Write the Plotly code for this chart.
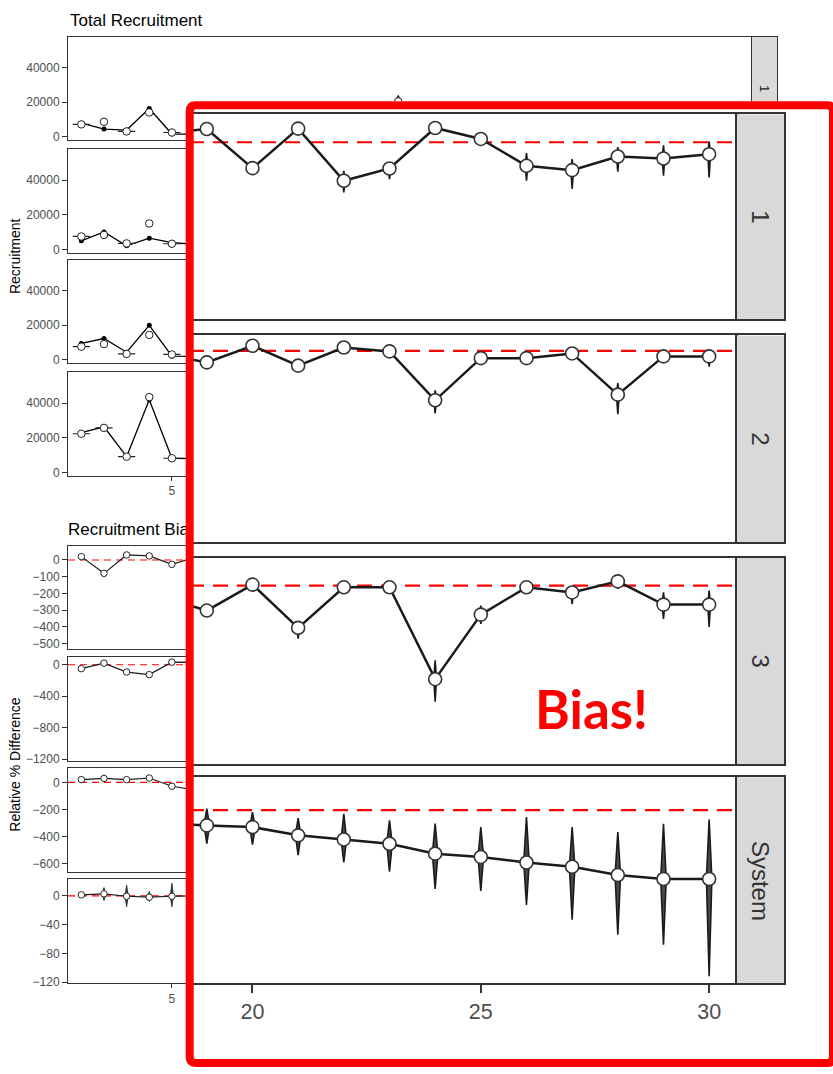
import plotly.graph_objects as go

W, H = 833, 1074
FONT = "Liberation Sans, Arial, Helvetica, sans-serif"
TICK_GREY = "#4D4D4D"
FRAME = "#333333"
STRIP_FILL = "#D9D9D9"
INK = "#1A1A1A"
RED = "#FF0000"

# ---------------- data ----------------
areas = ["1", "2", "3", "System"]

# Total recruitment, first years of the series (plus the year-15 estimate in area 1)
rec_years = [1, 2, 3, 4, 5, 6, 15]
rec_true = {
    "1": [7900, 4500, 3900, 16400, 1600, 1600, None],
    "2": [5000, 10100, 2100, 6500, 4000, 3000, None],
    "3": [9500, 12300, 4400, 19900, 2100, 2000, None],
    "System": [22900, 26300, 9100, 41900, 8200, 8000, None],
}
rec_est = {
    "1": [7200, 8700, 3100, 14100, 2500, 1800, 20500],
    "2": [7500, 8400, 3500, 15000, 3300, 2500, None],
    "3": [7600, 9100, 3400, 14400, 3100, 2000, None],
    "System": [22300, 25700, 9100, 43400, 8200, 8000, None],
}
rec_est_lo = {
    "1": [None, None, None, None, None, None, 17500],
    "2": [None, None, None, None, None, None, None],
    "3": [None, None, None, None, None, None, None],
    "System": [None, None, None, 41000, None, None, None],
}
rec_est_hi = {
    "1": [None, None, None, None, None, None, 24000],
    "2": [None, None, None, None, None, None, None],
    "3": [None, None, None, None, None, None, None],
    "System": [None, None, None, 45500, None, None, None],
}
# estimates whose distribution collapses to a single value (flat violins)
rec_flat = {
    "1": [1, 0, 1, 0, 1, 1, 0],
    "2": [1, 0, 1, 0, 1, 1, 0],
    "3": [1, 0, 1, 0, 1, 1, 0],
    "System": [1, 1, 1, 0, 1, 1, 0],
}

# Recruitment bias (relative % difference), early years
bias_years_early = [1, 2, 3, 4, 5, 6]
bias_early = {
    "1": [20, -80, 30, 24, -26, 15],
    "2": [-50, 20, -93, -126, 33, 30],
    "3": [20, 29, 20, 32, -29, -55],
    "System": [1.4, 2.8, -0.5, -1.8, -0.5, 0.0],
}
bias_early_lo = {
    "1": [None, None, None, None, None, None],
    "2": [None, None, None, None, None, None],
    "3": [None, None, None, None, None, None],
    "System": [-2, -6.5, -15, -8, -15, None],
}
bias_early_hi = {
    "1": [None, None, None, None, None, None],
    "2": [None, None, None, None, None, None],
    "3": [None, None, None, None, None, None],
    "System": [2, 11.5, 15, 6, 17.6, None],
}

# Recruitment bias, late years
bias_years_late = [18, 19, 20, 21, 22, 23, 24, 25, 26, 27, 28, 29, 30]
bias_late = {
    "1": [27, 40, -78, 41, -116, -79, 43, 10, -71, -84, -43, -49, -36],
    "2": [-20, -74, 32, -95, 21, -4, -316, -47, -47, -17, -280, -36, -36],
    "3": [-42, -92, 4, -156, -6, -6, -346, -107, -6, -25, 16, -70, -70],
    "System": [-9, -10.8, -12.0, -17.8, -20.7, -23.7, -30.7, -33.0, -36.9, -39.9, -45.7, -48.5, -48.5],
}
bias_late_lo = {
    "1": [None, None, None, None, -151, -111, None, None, -116, -141, -89, -101, -106],
    "2": [None, None, None, None, None, None, -400, None, None, None, -404, None, -101],
    "3": [None, None, None, -196, None, None, -429, -141, None, -68, -12, -123, -153],
    "System": [None, -23.6, -24.3, -31.7, -36.9, -43.4, -55.5, -56.9, -66.7, -77.2, -87.7, -94.7, -116.9],
}
bias_late_hi = {
    "1": [None, None, None, None, -86, -61, None, None, -33, -51, -15, -9, 3],
    "2": [None, None, None, None, None, None, -252, None, None, None, -206, None, -11],
    "3": [None, None, None, -135, None, None, -276, -74, None, -6, 37, -25, -18],
    "System": [None, 0.9, -1.5, -5.7, -2.6, -7.3, -9.6, -12.0, -5.0, -12.0, -15.5, -9.6, -6.6],
}

rec_ticks = [0, 20000, 40000]
bias_ticks = {
    "1": [0, -100, -200, -300, -400, -500],
    "2": [0, -400, -800, -1200],
    "3": [0, -200, -400, -600],
    "System": [0, -40, -80, -120],
}
rec_range = [-1800, 57900]
bias_range = {"1": [-533, 84], "2": [-1220, 98], "3": [-660, 103], "System": [-122, 23]}
year_ticks = [5, 10, 15, 20, 25, 30]
inset_year_ticks = [20, 25, 30]

# ---------------- layout helpers ----------------
fig = go.Figure()
axes_layout = {}
shapes = []
annotations = []
_count = [0]


def dom_x(a, b):
    return [a / W, b / W]


def dom_y(top, bottom):
    return [1 - bottom / H, 1 - top / H]


def add_axes(xdom, ydom, xr, yr, xstyle, ystyle):
    _count[0] += 1
    n = _count[0]
    sx = "" if n == 1 else str(n)
    axes_layout["xaxis" + sx] = dict(domain=dom_x(*xdom), range=xr, anchor="y" + sx, **xstyle)
    axes_layout["yaxis" + sx] = dict(domain=dom_y(*ydom), range=yr, anchor="x" + sx, **ystyle)
    return "x" + sx, "y" + sx


def frame_style(lw, ticks, ticklen, tickwidth, fsize, tickvals=None, labels=True):
    d = dict(showgrid=False, zeroline=False, showline=True, mirror=True,
             linecolor=FRAME, linewidth=lw, ticks=ticks, ticklen=ticklen,
             tickwidth=tickwidth, tickcolor=FRAME, showticklabels=labels,
             tickformat="d", separatethousands=False,
             tickfont=dict(family=FONT, size=fsize, color=TICK_GREY), fixedrange=True)
    if tickvals is not None:
        d["tickvals"] = tickvals
    return d


def hidden_style():
    return dict(visible=False, fixedrange=True)


def strip_style(lw):
    return dict(showgrid=False, zeroline=False, showline=True, mirror=True,
                linecolor=FRAME, linewidth=lw, ticks="", showticklabels=False,
                fixedrange=True)


def placeholder(xa, ya):
    fig.add_trace(go.Scatter(x=[None], y=[None], xaxis=xa, yaxis=ya,
                             showlegend=False, hoverinfo="skip"))


def violin_trace(xs, mid, lo, hi, hw, xa, ya, fill, lw):
    X, Y = [], []
    for x, m, l, h in zip(xs, mid, lo, hi):
        if l is None or h is None or m is None:
            continue
        X += [x, x + hw, x, x - hw, x, None]
        Y += [h, m, l, m, h, None]
    return go.Scatter(x=X, y=Y, mode="lines", fill="toself", fillcolor=fill,
                      line=dict(color=INK, width=lw), xaxis=xa, yaxis=ya,
                      hoverinfo="skip", showlegend=False)


def zero_line(xa, ya, xr, width, dash):
    shapes.append(dict(type="line", xref=xa, yref=ya, x0=xr[0], x1=xr[1], y0=0, y1=0,
                       layer="below", line=dict(color=RED, width=width, dash=dash)))


# ---------------- background: total recruitment ----------------
BG_X = (68, 752)
BG_XR = [0.41, 30.63]
rec_rows = [(37, 140.7), (150, 254), (261, 365), (374, 478.3)]
bias_rows = [(549, 652.7), (660.7, 765), (772.7, 876.7), (884.3, 989)]

for i, a in enumerate(areas):
    last = i == len(areas) - 1
    xa, ya = add_axes(BG_X, rec_rows[i], BG_XR, rec_range,
                      frame_style(1, "outside" if last else "", 4, 1, 12, year_ticks, last),
                      frame_style(1, "outside", 5, 1, 12, rec_ticks))
    fig.add_trace(violin_trace(rec_years, rec_est[a], rec_est_lo[a], rec_est_hi[a],
                               0.13, xa, ya, "#333333", 1))
    fig.add_trace(go.Scatter(x=rec_years, y=rec_true[a], mode="lines+markers",
                             line=dict(color="black", width=1.3),
                             marker=dict(color="black", size=5),
                             xaxis=xa, yaxis=ya, showlegend=False, hoverinfo="skip"))
    fig.add_trace(go.Scatter(
        x=rec_years, y=rec_est[a], mode="markers",
        marker=dict(symbol="circle", size=7.5, color="white", line=dict(color="#222222", width=1)),
        error_x=dict(type="data", array=[0.38 * f for f in rec_flat[a]], symmetric=True,
                     color="#222222", thickness=1.2, width=0),
        xaxis=xa, yaxis=ya, showlegend=False, hoverinfo="skip"))

# ---------------- background: recruitment bias ----------------
bg_bias_years = bias_years_early + [None] + bias_years_late
for i, a in enumerate(areas):
    last = i == len(areas) - 1
    xa, ya = add_axes(BG_X, bias_rows[i], BG_XR, bias_range[a],
                      frame_style(1, "outside" if last else "", 4, 1, 12, year_ticks, last),
                      frame_style(1, "outside", 5, 1, 12, bias_ticks[a]))
    zero_line(xa, ya, BG_XR, 1.1, "7px,5px")
    mid = bias_early[a] + [None] + bias_late[a]
    lo = bias_early_lo[a] + [None] + bias_late_lo[a]
    hi = bias_early_hi[a] + [None] + bias_late_hi[a]
    hw = 0.07 if a == "System" else 0.04
    fig.add_trace(violin_trace(bg_bias_years, mid, lo, hi, hw, xa, ya, "#444444", 0.8))
    fig.add_trace(go.Scatter(
        x=bg_bias_years, y=mid, mode="lines+markers",
        line=dict(color=INK, width=1.2),
        marker=dict(symbol="circle", size=6.5, color="white", line=dict(color="#222222", width=1)),
        xaxis=xa, yaxis=ya, showlegend=False, hoverinfo="skip"))

# ---------------- background facet strips ----------------
for rows in (rec_rows, bias_rows):
    for r in rows:
        xa, ya = add_axes((752, 777), r, [0, 1], [0, 1], strip_style(1), strip_style(1))
        placeholder(xa, ya)
        shapes.append(dict(type="rect", xref=xa, yref=ya, x0=0, x1=1, y0=0, y1=1,
                           layer="below", fillcolor=STRIP_FILL, line=dict(width=0)))

# ---------------- second block title (partly hidden behind the zoom panel) ----------------
xa, ya = add_axes((68, 300), (524, 543), [0, 1], [0, 1], hidden_style(), hidden_style())
fig.add_trace(go.Scatter(x=[0], y=[0.5], mode="text", text=["Recruitment Bias"],
                         textposition="middle right", cliponaxis=False,
                         textfont=dict(family=FONT, size=17, color="black"),
                         xaxis=xa, yaxis=ya, showlegend=False, hoverinfo="skip"))

# ---------------- zoom panel backdrop ----------------
xa, ya = add_axes((186, 833), (102, 1072), [0, 1], [0, 1], hidden_style(), hidden_style())
placeholder(xa, ya)
shapes.append(dict(type="rect", xref=xa, yref=ya, x0=0, x1=1, y0=0, y1=1,
                   layer="below", fillcolor="white", line=dict(width=0)))

# ---------------- zoom panel: bias, years 19-30 ----------------
IN_X = (189, 737)
IN_XR = [18.61, 30.61]
inset_rows = [(115, 321), (337.3, 545), (561, 768.3), (781.7, 989)]
for i, a in enumerate(areas):
    last = i == len(areas) - 1
    xa, ya = add_axes(IN_X, inset_rows[i], IN_XR, bias_range[a],
                      frame_style(2, "outside" if last else "", 8, 2, 21.5, inset_year_ticks, last),
                      frame_style(2, "", 0, 0, 12, None, False))
    zero_line(xa, ya, IN_XR, 2.2, "15px,9px")
    hw = 0.06 if a == "System" else 0.03
    fig.add_trace(violin_trace(bias_years_late, bias_late[a], bias_late_lo[a], bias_late_hi[a],
                               hw, xa, ya, "#4A4A4A", 1.6))
    fig.add_trace(go.Scatter(
        x=bias_years_late, y=bias_late[a], mode="lines+markers",
        line=dict(color=INK, width=2.5),
        marker=dict(symbol="circle", size=13, color="white", line=dict(color="#333333", width=1.6)),
        xaxis=xa, yaxis=ya, showlegend=False, hoverinfo="skip"))

# zoom panel strips
for i, a in enumerate(areas):
    xa, ya = add_axes((737, 784), inset_rows[i], [0, 1], [0, 1], strip_style(2), strip_style(2))
    placeholder(xa, ya)
    shapes.append(dict(type="rect", xref=xa, yref=ya, x0=0, x1=1, y0=0, y1=1,
                       layer="below", fillcolor=STRIP_FILL, line=dict(width=0)))
    top, bottom = inset_rows[i]
    annotations.append(dict(x=760.5 / W, y=1 - (top + bottom) / 2 / H, xref="paper", yref="paper",
                            text=a, showarrow=False, textangle=90,
                            font=dict(family=FONT, size=24, color="#333333"),
                            xanchor="center", yanchor="middle"))

# ---------------- zoom panel frame ----------------
x0, x1, y0, y1, rr = 189.7 / W, 833 / W, 1 - 105.8 / H, 1 - 1069 / H, 6
rx, ry = rr / W, rr / H
frame_path = (
    f"M {x0 + rx},{y0} L {x1 - rx},{y0} Q {x1},{y0} {x1},{y0 - ry} "
    f"L {x1},{y1 + ry} Q {x1},{y1} {x1 - rx},{y1} L {x0 + rx},{y1} "
    f"Q {x0},{y1} {x0},{y1 + ry} L {x0},{y0 - ry} Q {x0},{y0} {x0 + rx},{y0} Z"
)
shapes.append(dict(type="path", xref="paper", yref="paper", path=frame_path,
                   layer="above", line=dict(color=RED, width=8), fillcolor="rgba(0,0,0,0)"))

# ---------------- text ----------------
annotations += [
    dict(x=68 / W, y=1 - 21 / H, xref="paper", yref="paper", text="Total Recruitment",
         showarrow=False, xanchor="left", yanchor="middle",
         font=dict(family=FONT, size=17, color="black")),
    dict(x=14.5 / W, y=1 - 258 / H, xref="paper", yref="paper", text="Recruitment",
         showarrow=False, textangle=-90, xanchor="center", yanchor="middle",
         font=dict(family=FONT, size=14, color="black")),
    dict(x=15 / W, y=1 - 769 / H, xref="paper", yref="paper", text="Relative % Difference",
         showarrow=False, textangle=-90, xanchor="center", yanchor="middle",
         font=dict(family=FONT, size=14, color="black")),
    dict(x=764.5 / W, y=1 - 89 / H, xref="paper", yref="paper", text="1",
         showarrow=False, textangle=90, xanchor="center", yanchor="middle",
         font=dict(family=FONT, size=13, color=INK)),
    dict(x=591 / W, y=1 - 712 / H, xref="paper", yref="paper", text="<b>Bias!</b>",
         showarrow=False, xanchor="center", yanchor="middle",
         font=dict(family="Lato, Open Sans, sans-serif", size=53, color=RED)),
]

fig.update_layout(
    width=W, height=H, autosize=False,
    margin=dict(l=0, r=0, t=0, b=0, pad=0),
    paper_bgcolor="white", plot_bgcolor="white",
    showlegend=False, shapes=shapes, annotations=annotations,
    **axes_layout,
)

fig.write_html("out.html")
